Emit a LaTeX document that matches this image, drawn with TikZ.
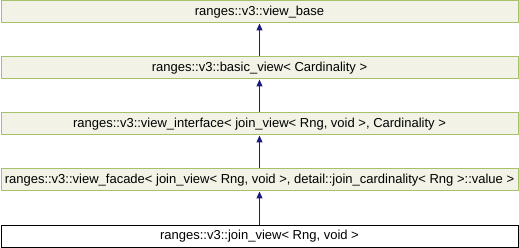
\documentclass[tikz,border=0pt]{standalone}
\usepackage{fontspec}
\setmainfont{Liberation Sans}
\usepackage{tikz}
\usetikzlibrary{arrows.meta,positioning}
\definecolor{boxfill}{HTML}{F2F3E6}
\definecolor{boxline}{HTML}{A8C06A}
\definecolor{arrowblue}{HTML}{1A1A80}

\begin{document}
\begin{tikzpicture}[>={Triangle[length=7pt,width=6pt]},node distance=33pt,
 box/.style={draw=boxline,fill=boxfill,line width=1pt,minimum width=517pt,minimum height=22pt,inner sep=0pt,font=\fontsize{13}{15}\selectfont},
 leaf/.style={box,draw=black,fill=white},
 inherit/.style={->,draw=arrowblue,fill=arrowblue,line width=1pt}]
\useasboundingbox (0,0) rectangle (519pt,-248pt);
\node[box] (base) at (259.5pt,-12pt) {ranges::v3::view\_base};
\node[box,below=of base] (basic) {ranges::v3::basic\_view< Cardinality >};
\node[box,below=of basic] (iface) {ranges::v3::view\_interface< join\_view< Rng, void >, Cardinality >};
\node[box,below=of iface] (facade) {ranges::v3::view\_facade< join\_view< Rng, void >, detail::join\_cardinality< Rng >::value >};
\node[leaf,below=of facade] (join) {ranges::v3::join\_view< Rng, void >};
\draw[inherit] (basic) -- (base);
\draw[inherit] (iface) -- (basic);
\draw[inherit] (facade) -- (iface);
\draw[inherit] (join) -- (facade);
\end{tikzpicture}
\end{document}
